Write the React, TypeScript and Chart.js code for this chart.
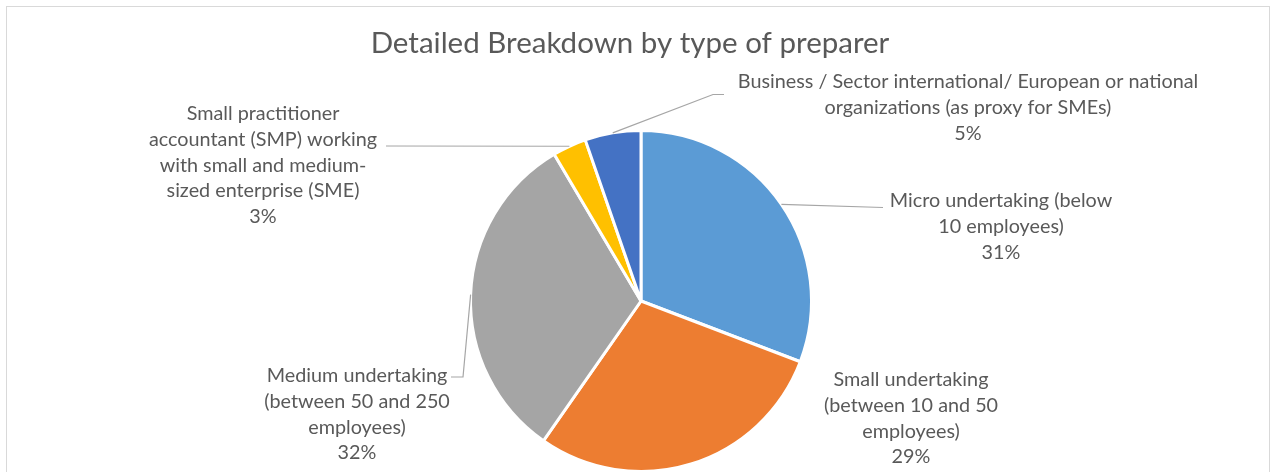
import React, { useEffect, useRef } from "react";
import { Chart, registerables } from "chart.js";

Chart.register(...registerables);

const TITLE = "Detailed Breakdown by type of preparer";

const categoryLines: string[][] = [
  ["Micro undertaking (below", "10 employees)"],
  ["Small undertaking", "(between 10 and 50", "employees)"],
  ["Medium undertaking", "(between 50 and 250", "employees)"],
  ["Small practitioner", "accountant (SMP) working", "with small and medium-", "sized enterprise (SME)"],
  ["Business / Sector international/ European or national", "organizations (as proxy for SMEs)"],
];

const shares: number[] = [30.8, 28.9, 31.8, 3.2, 5.3];

const sliceColors: string[] = ["#5B9BD5", "#ED7D31", "#A5A5A5", "#FFC000", "#4472C4"];

// label layout (pixel positions of the label blocks and leader elbows)
const labelLayout = [
  { cx: 1001, top: 201, leader: [[883, 207.5]] },
  { cx: 911, top: 380, leader: [] as number[][] },
  { cx: 357, top: 376, leader: [[463, 377], [451, 377]] },
  { cx: 263, top: 114, leader: [[386, 146]] },
  { cx: 968, top: 82, leader: [[713, 94.5], [724, 94.5]] },
];

const W = 1276;
const H = 480;
const FONT = "Lato, 'Open Sans', sans-serif";
const TEXT_COLOR = "#595959";
const LINE_H = 25.7;

export default function App() {
  const ref = useRef<HTMLCanvasElement | null>(null);

  useEffect(() => {
    if (!ref.current) return;
    const total = shares.reduce((a, b) => a + b, 0);

    const labelPlugin = {
      id: "labelPlugin",
      afterDraw(chart: any) {
        const ctx = chart.ctx as CanvasRenderingContext2D;
        ctx.save();
        // title
        ctx.fillStyle = TEXT_COLOR;
        ctx.font = `29.5px ${FONT}`;
        ctx.textAlign = "center";
        ctx.textBaseline = "middle";
        ctx.fillText(TITLE, 630, 43);

        const meta = chart.getDatasetMeta(0);
        meta.data.forEach((arc: any, i: number) => {
          const lay = labelLayout[i];
          const mid = (arc.startAngle + arc.endAngle) / 2;
          const px = arc.x + arc.outerRadius * Math.cos(mid);
          const py = arc.y + arc.outerRadius * Math.sin(mid);
          if (lay.leader.length) {
            ctx.strokeStyle = "#A6A6A6";
            ctx.lineWidth = 1.2;
            ctx.beginPath();
            ctx.moveTo(px, py);
            lay.leader.forEach((p) => ctx.lineTo(p[0], p[1]));
            ctx.stroke();
          }
          const lines = [...categoryLines[i], `${Math.round((shares[i] / total) * 100)}%`];
          ctx.fillStyle = TEXT_COLOR;
          ctx.font = `19.8px ${FONT}`;
          ctx.textAlign = "center";
          ctx.textBaseline = "middle";
          lines.forEach((t, k) => ctx.fillText(t, lay.cx, lay.top + k * LINE_H));
        });
        ctx.restore();
      },
    };

    const chart = new Chart(ref.current, {
      type: "pie",
      data: {
        labels: categoryLines.map((l) => l.join(" ")),
        datasets: [
          {
            data: shares,
            backgroundColor: sliceColors,
            borderColor: "#FFFFFF",
            borderWidth: 3,
          },
        ],
      },
      options: {
        responsive: false,
        animation: false,
        devicePixelRatio: 1,
        layout: { padding: { left: 469, right: W - 813, top: 129, bottom: H - 473 } },
        plugins: {
          legend: { display: false },
          title: { display: false },
          tooltip: { enabled: false },
        },
      },
      plugins: [labelPlugin],
    });
    return () => chart.destroy();
  }, []);

  return (
    <div style={{ position: "absolute", left: 0, top: 0, width: W, height: H, background: "#fff" }}>
      <div
        style={{
          position: "absolute",
          left: 6,
          top: 6,
          width: 1264,
          height: 520,
          border: "1px solid #D9D9D9",
          boxSizing: "border-box",
        }}
      />
      <canvas ref={ref} width={W} height={H} style={{ position: "absolute", left: 0, top: 0 }} />
    </div>
  );
}
